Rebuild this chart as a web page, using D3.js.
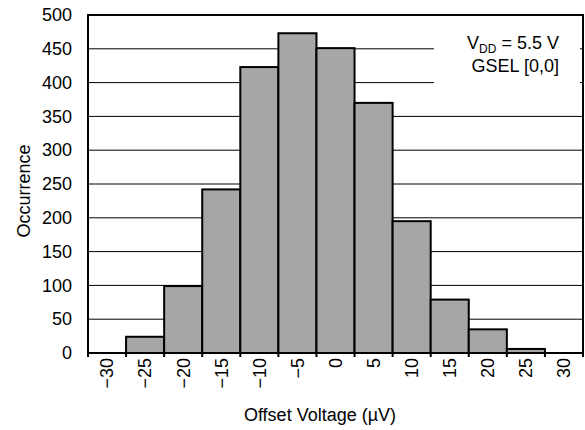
<!DOCTYPE html>
<html>
<head>
<meta charset="utf-8">
<script src="https://cdn.jsdelivr.net/npm/d3@7"></script>
<style>
  html, body { margin: 0; padding: 0; background: #fff; overflow: hidden; }
  svg { display: block; }
  text { font-family: "Liberation Sans", Arial, sans-serif; fill: #000; }
</style>
</head>
<body>
<svg id="chart" width="585" height="430"></svg>
<script>
// offset voltage bins (uV) and how many parts fell in each
const categories = [-30, -25, -20, -15, -10, -5, 0, 5, 10, 15, 20, 25, 30];
const counts = [0, 24, 99, 242, 423, 473, 451, 370, 195, 79, 35, 6, 0];
const yTicks = [0, 50, 100, 150, 200, 250, 300, 350, 400, 450, 500];

const width = 585, height = 430;
const margin = { top: 15, right: 2, bottom: 77, left: 88 };
const innerWidth = width - margin.left - margin.right;
const innerHeight = height - margin.top - margin.bottom;

const data = categories.map((c, i) => ({ x: c, y: counts[i] }));
const fmt = v => String(v).replace("-", "\u2212");

const svg = d3.select("#chart");

const xScale = d3.scaleBand()
  .domain(categories)
  .range([0, innerWidth])
  .padding(0);

const yScale = d3.scaleLinear()
  .domain([0, 500])
  .range([innerHeight, 0]);

const g = svg.append("g").attr("transform", `translate(${margin.left},${margin.top})`);

// horizontal grid
g.selectAll(".grid")
  .data(yTicks.filter(t => t > 0 && t < 500))
  .enter()
  .append("line")
  .attr("class", "grid")
  .attr("x1", 0)
  .attr("x2", innerWidth)
  .attr("y1", d => yScale(d))
  .attr("y2", d => yScale(d))
  .attr("stroke", "#000")
  .attr("stroke-width", 1);

// condition box
g.append("rect")
  .attr("x", 346)
  .attr("y", 10)
  .attr("width", 146)
  .attr("height", 84)
  .attr("fill", "#fff");

const note = g.append("text")
  .attr("text-anchor", "end")
  .attr("font-size", 18)
  .attr("x", 471)
  .attr("y", 34);
note.append("tspan").text("V");
note.append("tspan").attr("font-size", 12).attr("dy", 4).text("DD");
note.append("tspan").attr("dy", -4).text(" = 5.5 V");

g.append("text")
  .attr("text-anchor", "end")
  .attr("font-size", 18)
  .attr("x", 471)
  .attr("y", 57)
  .text("GSEL [0,0]");

// bars
g.selectAll(".bar")
  .data(data.filter(d => d.y > 0))
  .enter()
  .append("rect")
  .attr("class", "bar")
  .attr("x", d => xScale(d.x))
  .attr("y", d => yScale(d.y))
  .attr("width", xScale.bandwidth())
  .attr("height", d => innerHeight - yScale(d.y))
  .attr("fill", "#a6a6a6")
  .attr("stroke", "#000")
  .attr("stroke-width", 2);

// y labels
const yAxis = g.append("g")
  .attr("class", "axis axis--y")
  .call(d3.axisLeft(yScale).tickValues(yTicks).tickSize(0).tickPadding(16));
yAxis.attr("font-size", 18).attr("font-family", null);
yAxis.select(".domain").remove();

// tick marks on bin edges
const edges = categories.map(c => xScale(c)).concat([innerWidth]);
g.selectAll(".xtick")
  .data(edges)
  .enter()
  .append("line")
  .attr("class", "xtick")
  .attr("x1", d => d)
  .attr("x2", d => d)
  .attr("y1", innerHeight)
  .attr("y2", innerHeight + 4)
  .attr("stroke", "#000")
  .attr("stroke-width", 2);

// x labels, rotated, centred on each bin
const xAxis = g.append("g")
  .attr("class", "axis axis--x")
  .attr("transform", `translate(0,${innerHeight})`)
  .call(d3.axisBottom(xScale).tickSize(0).tickFormat(fmt));
xAxis.attr("font-size", 18).attr("font-family", null);
xAxis.select(".domain").remove();
xAxis.selectAll("text")
  .attr("text-anchor", "end")
  .attr("transform", "rotate(-90)")
  .attr("x", -5)
  .attr("y", 0)
  .attr("dy", "0.35em");

// plot frame
g.append("rect")
  .attr("width", innerWidth)
  .attr("height", innerHeight)
  .attr("fill", "none")
  .attr("stroke", "#000")
  .attr("stroke-width", 2);

svg.append("text")
  .attr("text-anchor", "middle")
  .attr("font-size", 18)
  .attr("x", 320)
  .attr("y", 421)
  .text("Offset Voltage (\u00b5V)");

svg.append("text")
  .attr("text-anchor", "middle")
  .attr("font-size", 18)
  .attr("transform", "translate(30,191) rotate(-90)")
  .text("Occurrence");
</script>
</body>
</html>
